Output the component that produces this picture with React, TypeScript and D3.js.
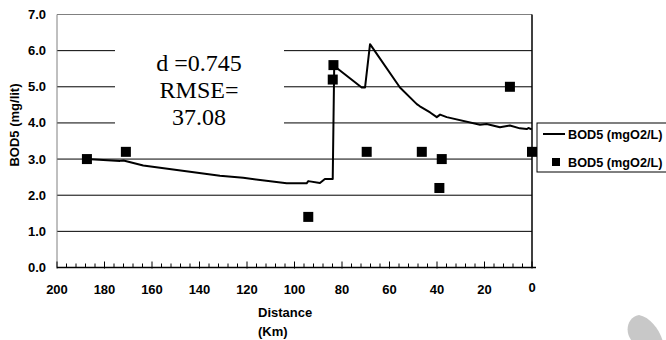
import React from "react";
import * as d3 from "d3";

const lineKm = [187.5, 173.5, 172, 163.7, 131.4, 121.6, 103.3, 94.9, 94.2, 89.3, 87.2, 85.1, 83.9, 83.3, 82.2, 71.7, 70.3, 68.2, 55.6, 48.5, 47.2, 42.9, 40.1, 38.7, 35.9, 21.9, 19.1, 13.5, 9.3, 5.1, 2.2, 1.5, 0.1];
const lineVal = [3.0, 2.95, 2.96, 2.82, 2.54, 2.48, 2.33, 2.33, 2.39, 2.34, 2.45, 2.45, 2.45, 5.48, 5.52, 4.98, 4.98, 6.18, 4.98, 4.52, 4.46, 4.29, 4.16, 4.23, 4.16, 3.95, 3.97, 3.88, 3.93, 3.85, 3.83, 3.86, 3.82];

const obsKm = [187.4, 171, 94.2, 83.6, 83.9, 69.6, 46.4, 38.0, 39.0, 9.3, 0];
const obsVal = [3.0, 3.2, 1.4, 5.6, 5.2, 3.2, 3.2, 3.0, 2.2, 5.0, 3.2];

const yTicks = [0, 1, 2, 3, 4, 5, 6, 7];
const xTicks = [200, 180, 160, 140, 120, 100, 80, 60, 40, 20, 0];
const seriesNames = ["BOD5 (mgO2/L)", "BOD5 (mgO2/L)"];
const statLines = ["d =0.745", "RMSE=", "37.08"];

export default function App() {
  const x = d3.scaleLinear().domain([200, 0]).range([57, 532]);
  const y = d3.scaleLinear().domain([0, 7]).range([267.5, 14.5]);
  const minor = d3.range(0, 201, 4).filter((v) => v % 20 !== 0);
  const line = d3
    .line<number>()
    .x((_, i) => x(lineKm[i]))
    .y((d) => y(d));
  const sans = "'Liberation Sans', Arial, sans-serif";
  const serif = "'Liberation Serif', 'Times New Roman', serif";
  const sq = 10;
  return (
    <svg width={666} height={340} style={{ position: "absolute", left: 0, top: 0 }}>
      <rect width={666} height={340} fill="#fff" />
      {/* gridlines */}
      {yTicks.slice(1, 7).map((t) => (
        <line key={t} x1={57} x2={532} y1={y(t)} y2={y(t)} stroke="#000" strokeWidth={1} />
      ))}
      {/* plot border */}
      <line x1={57} x2={532} y1={y(7)} y2={y(7)} stroke="#808080" strokeWidth={1} />
      <line x1={57} x2={57} y1={y(7)} y2={y(0)} stroke="#808080" strokeWidth={1} />
      {/* annotation box */}
      <rect x={115} y={32} width={169} height={103} fill="#fff" />
      {statLines.map((s, i) => (
        <text key={i} x={199} y={71 + i * 27} textAnchor="middle" fontFamily={serif} fontSize={24} fill="#000">
          {s}
        </text>
      ))}
      {/* right axis line */}
      <line x1={532} x2={532} y1={y(7)} y2={y(0)} stroke="#000" strokeWidth={1.5} />
      {/* x axis */}
      <line x1={57} x2={536} y1={y(0)} y2={y(0)} stroke="#000" strokeWidth={1.5} />
      {minor.map((t) => (
        <line key={"m" + t} x1={x(t)} x2={x(t)} y1={y(0) - 4} y2={y(0)} stroke="#000" strokeWidth={1} />
      ))}
      {xTicks.map((t) => (
        <line key={"M" + t} x1={x(t)} x2={x(t)} y1={y(0) - 6} y2={y(0) + 1} stroke="#000" strokeWidth={1} />
      ))}
      {xTicks.map((t) => (
        <text key={"xl" + t} x={x(t)} y={t === 0 ? 292 : 294} textAnchor="middle" fontFamily={sans} fontWeight="bold" fontSize={13} fill="#000">
          {t}
        </text>
      ))}
      {yTicks.map((t) => (
        <text key={"yl" + t} x={46} y={y(t) + 4.5} textAnchor="end" fontFamily={sans} fontWeight="bold" fontSize={13} fill="#000">
          {t.toFixed(1)}
        </text>
      ))}
      <text x={258} y={317} fontFamily={sans} fontWeight="bold" fontSize={13} fill="#000">Distance</text>
      <text x={258} y={336} fontFamily={sans} fontWeight="bold" fontSize={13} fill="#000">(Km)</text>
      <text transform="translate(19,125) rotate(-90)" textAnchor="middle" fontFamily={sans} fontWeight="bold" fontSize={13} fill="#000">
        BOD5 (mg/lit)
      </text>
      {/* simulated line */}
      <path d={line(lineVal) || ""} fill="none" stroke="#000" strokeWidth={2} strokeLinejoin="round" />
      {/* observations */}
      {obsVal.map((v, i) => (
        <rect key={"o" + i} x={x(obsKm[i]) - sq / 2} y={y(v) - sq / 2} width={sq} height={sq} fill="#000" />
      ))}
      {/* legend */}
      <rect x={537} y={123} width={140} height={49} fill="#fff" stroke="#000" strokeWidth={1} />
      <line x1={543} x2={565} y1={134} y2={134} stroke="#000" strokeWidth={2} />
      <rect x={552} y={158} width={8} height={8} fill="#000" />
      <text x={568} y={138.5} fontFamily={sans} fontWeight="bold" fontSize={12.7} fill="#000">{seriesNames[0]}</text>
      <text x={568} y={166.5} fontFamily={sans} fontWeight="bold" fontSize={12.7} fill="#000">{seriesNames[1]}</text>
      {/* decorative drop */}
      <path d="M639 315 C650 317 660 330 663 342 L633 342 C625 335 625 318 639 315 Z" fill="#c8c8c8" />
    </svg>
  );
}
